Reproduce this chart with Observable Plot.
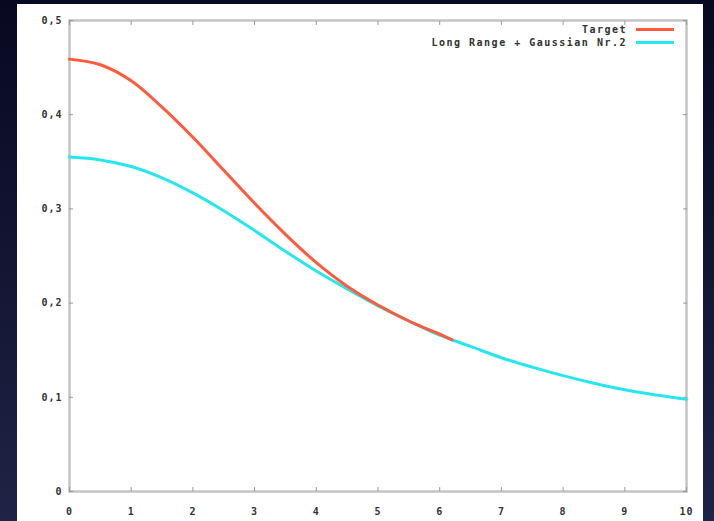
<!DOCTYPE html>
<html><head><meta charset="utf-8">
<script src="https://cdn.jsdelivr.net/npm/d3@7"></script>
<script src="https://cdn.jsdelivr.net/npm/@observablehq/plot@0.6"></script>
<style>
html,body{margin:0;padding:0;}
body{width:714px;height:521px;overflow:hidden;background:linear-gradient(180deg,#080822 0%,#121633 50%,#1f2446 100%);position:relative;font-family:"DejaVu Sans Mono",monospace;}
#panel{position:absolute;left:17px;top:4px;width:686px;height:517px;background:#fff;}
#chart{position:absolute;left:0;top:0;}
#legend{position:absolute;right:87px;top:23px;font:bold 10px "DejaVu Sans Mono",monospace;letter-spacing:1.5px;color:#333;}
#legend .row{position:relative;display:flex;align-items:center;justify-content:flex-end;height:13px;}
#legend .sw{position:absolute;right:-47px;width:38px;height:3px;}
</style></head>
<body>
<div id="panel"></div>
<div id="chart"></div>
<div id="legend"></div>
<script>
const xTicks = [0,1,2,3,4,5,6,7,8,9,10];
const yTicks = [0,0.1,0.2,0.3,0.4,0.5];
const seriesNames = ["Target","Long Range + Gaussian Nr.2"];
const seriesColors = ["#ff5a3c","#27e6f0"];
const targetX = [0,0.5,1,1.5,2,2.5,3,3.5,4,4.5,5,5.5,6,6.2];
const targetY = [0.459,0.453,0.436,0.408,0.376,0.341,0.306,0.273,0.243,0.218,0.198,0.181,0.167,0.161];
const fitX = [0,0.5,1,1.5,2,2.5,3,3.5,4,4.5,5,5.5,6,6.5,7,7.5,8,8.5,9,9.5,10];
const fitY = [0.355,0.352,0.345,0.333,0.317,0.298,0.277,0.255,0.234,0.215,0.197,0.181,0.166,0.154,0.142,0.132,0.123,0.115,0.108,0.1025,0.098];

const target = targetX.map((x,i)=>({x, y: targetY[i]}));
const fit = fitX.map((x,i)=>({x, y: fitY[i]}));
const fmtY = d => d === 0 ? "0" : d.toFixed(1).replace(".", ",");

const plot = Plot.plot({
  width: 714, height: 521,
  marginLeft: 69, marginTop: 20, marginRight: 28, marginBottom: 30,
  style: {background: "transparent", fontFamily: "DejaVu Sans Mono, monospace", fontSize: "10px", fontWeight: "bold", color: "#333", letterSpacing: "1px"},
  x: {domain: [0, 10]},
  y: {domain: [0, 0.5]},
  marks: [
    Plot.frame({stroke: "#c4c4c4", strokeWidth: 2.5}),
    Plot.axisX(xTicks, {anchor: "bottom", tickSize: -4, tickPadding: 20, tickFormat: d => String(d), stroke: "#999", label: null}),
    Plot.axisX(xTicks, {anchor: "top", tickSize: -4, tickFormat: () => "", stroke: "#999", label: null}),
    Plot.axisY(yTicks, {anchor: "left", tickSize: -4, tickPadding: 11, tickFormat: fmtY, stroke: "#999", label: null}),
    Plot.axisY(yTicks, {anchor: "right", tickSize: -4, tickFormat: () => "", stroke: "#999", label: null}),
    Plot.line(fit, {x: "x", y: "y", stroke: seriesColors[1], strokeWidth: 3, curve: "catmull-rom"}),
    Plot.line(target, {x: "x", y: "y", stroke: seriesColors[0], strokeWidth: 3, curve: "catmull-rom"})
  ]
});
document.getElementById("chart").appendChild(plot);

const lg = document.getElementById("legend");
seriesNames.forEach((n,i)=>{
  const r = document.createElement("div"); r.className = "row";
  const t = document.createElement("span"); t.textContent = n;
  const s = document.createElement("span"); s.className = "sw"; s.style.background = seriesColors[i];
  r.appendChild(t); r.appendChild(s); lg.appendChild(r);
});
</script>
</body></html>
